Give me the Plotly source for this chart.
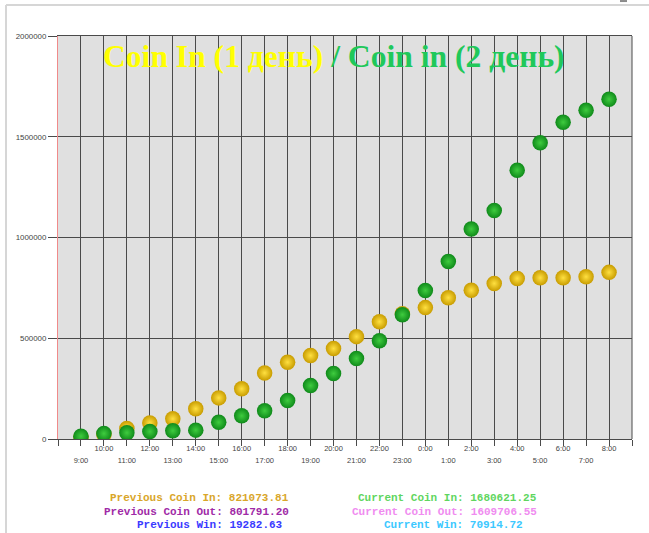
import plotly.graph_objects as go

# ---------------- data ----------------
hours = ["9:00", "10:00", "11:00", "12:00", "13:00", "14:00", "15:00", "16:00",
         "17:00", "18:00", "19:00", "20:00", "21:00", "22:00", "23:00", "0:00",
         "1:00", "2:00", "3:00", "4:00", "5:00", "6:00", "7:00", "8:00"]

prev_coin_in = [8000, 22000, 52000, 80000, 100000, 150000, 204000, 249000,
                328000, 381000, 414000, 449000, 508000, 582000, 622000, 652000,
                701000, 738000, 772000, 797000, 800000, 800000, 805000, 827000]

curr_coin_in = [14000, 27000, 31000, 37000, 41000, 44000, 83000, 115000,
                140000, 191000, 265000, 325000, 399000, 488000, 617000, 737000,
                881000, 1042000, 1134000, 1334000, 1470000, 1572000, 1632000, 1686000]

y_ticks = [0, 500000, 1000000, 1500000, 2000000]

title_day1 = "Coin In (1 день)"
title_day2 = "/ Coin in (2 день)"

prev_labels = ["Previous Coin In: 821073.81", "Previous Coin Out: 801791.20", "Previous Win: 19282.63"]
curr_labels = ["Current Coin In: 1680621.25", "Current Coin Out: 1609706.55", "Current Win: 70914.72"]
prev_colors = ["#d9a62a", "#a02aa6", "#3a3aff"]
curr_colors = ["#5fd65f", "#f08cf0", "#3cc8ff"]

# ---------------- layout geometry ----------------
W, H = 649, 533
L, R, T, B = 58, 632, 36, 439.5


def px_x(x):
    return (x - L) / (R - L)


def px_y(y):
    return (B - y) / (B - T)


idx = list(range(len(hours)))
all_ticks = list(range(-1, len(hours) + 1))
upper_text = [hours[i] if 0 <= i < len(hours) and i % 2 == 1 else "" for i in all_ticks]
lower_vals = [i for i in idx if i % 2 == 0]
lower_text = [hours[i] for i in lower_vals]

fig = go.Figure()

fig.add_trace(go.Scatter(
    x=idx, y=prev_coin_in, mode="markers", name="Previous",
    marker=dict(size=15.5, color="#c89c00", line=dict(width=0),
                gradient=dict(type="radial", color="#ffe040")),
    hoverinfo="x+y"))

fig.add_trace(go.Scatter(
    x=idx, y=curr_coin_in, mode="markers", name="Current", xaxis="x2",
    marker=dict(size=15.5, color="#0f8a1a", line=dict(width=0),
                gradient=dict(type="radial", color="#3fcc3f")),
    hoverinfo="x+y"))

annotations = [
    dict(xref="paper", yref="paper", x=px_x(334), y=px_y(57),
         xanchor="center", yanchor="middle", showarrow=False,
         text=("<b><span style='color:#ffff00'>" + title_day1 + "</span> "
               "<span style='color:#20c85a'>" + title_day2 + "</span></b>"),
         font=dict(family="Liberation Serif", size=31.6))
]

prev_right = [291, 291, 285]
curr_right = [539, 539, 525]
rows_y = [499, 513, 526]
for i in range(3):
    annotations.append(dict(
        xref="paper", yref="paper", x=px_x(prev_right[i]), y=px_y(rows_y[i]),
        xanchor="right", yanchor="middle", showarrow=False, text="<b>" + prev_labels[i] + "</b>",
        font=dict(family="Liberation Mono", size=11, color=prev_colors[i])))
    annotations.append(dict(
        xref="paper", yref="paper", x=px_x(curr_right[i]), y=px_y(rows_y[i]),
        xanchor="right", yanchor="middle", showarrow=False, text="<b>" + curr_labels[i] + "</b>",
        font=dict(family="Liberation Mono", size=11, color=curr_colors[i])))

shapes = [
    # right border of plot area
    dict(type="line", xref="paper", yref="paper", x0=1, x1=1, y0=0, y1=1,
         line=dict(color="#4a4a4a", width=1)),
    # outer panel border (left and top)
    dict(type="line", xref="paper", yref="paper", x0=px_x(6), x1=px_x(6), y0=px_y(5), y1=px_y(540),
         line=dict(color="#d6d6d6", width=2)),
    dict(type="line", xref="paper", yref="paper", x0=px_x(6), x1=px_x(649), y0=px_y(5), y1=px_y(5),
         line=dict(color="#d6d6d6", width=2)),
    dict(type="rect", xref="paper", yref="paper", x0=px_x(620), x1=px_x(627), y0=px_y(0), y1=px_y(2),
         line=dict(width=0), fillcolor="#8a8a8a"),
]

fig.update_layout(
    width=W, height=H,
    margin=dict(l=L, r=W - R, t=T, b=H - B, pad=0),
    paper_bgcolor="white", plot_bgcolor="#e0e0e0",
    showlegend=False,
    font=dict(family="Liberation Sans", color="#444444"),
    xaxis=dict(range=[-1, len(hours)], tickmode="array", tickvals=all_ticks, ticktext=upper_text,
               ticks="outside", ticklen=6, tickcolor="#4a4a4a", tickwidth=1,
               ticklabelstandoff=-4,
               showgrid=True, gridcolor="#4a4a4a", gridwidth=1, zeroline=False,
               showline=True, linecolor="#4a4a4a", linewidth=1, mirror=True,
               tickfont=dict(size=7.5, color="#444444")),
    xaxis2=dict(overlaying="x", matches="x", anchor="y", side="bottom",
                tickmode="array", tickvals=lower_vals, ticktext=lower_text,
                ticks="outside", ticklen=6, tickcolor="rgba(0,0,0,0)", ticklabelstandoff=8,
                showgrid=False, zeroline=False, showline=False,
                tickfont=dict(size=7.5, color="#444444")),
    yaxis=dict(range=[0, 2000000], tickmode="array", tickvals=y_ticks, tickformat="d",
               ticks="outside", ticklen=9, tickcolor="#4a4a4a", tickwidth=1,
               showgrid=True, gridcolor="#4a4a4a", gridwidth=1, zeroline=False,
               showline=True, linecolor="#f08a8a", linewidth=1,
               tickfont=dict(size=7.9, color="#444444")),
    annotations=annotations,
    shapes=shapes,
)

fig.write_html("out.html", config={"displayModeBar": False},
               post_script="document.body.style.margin='0px';")
